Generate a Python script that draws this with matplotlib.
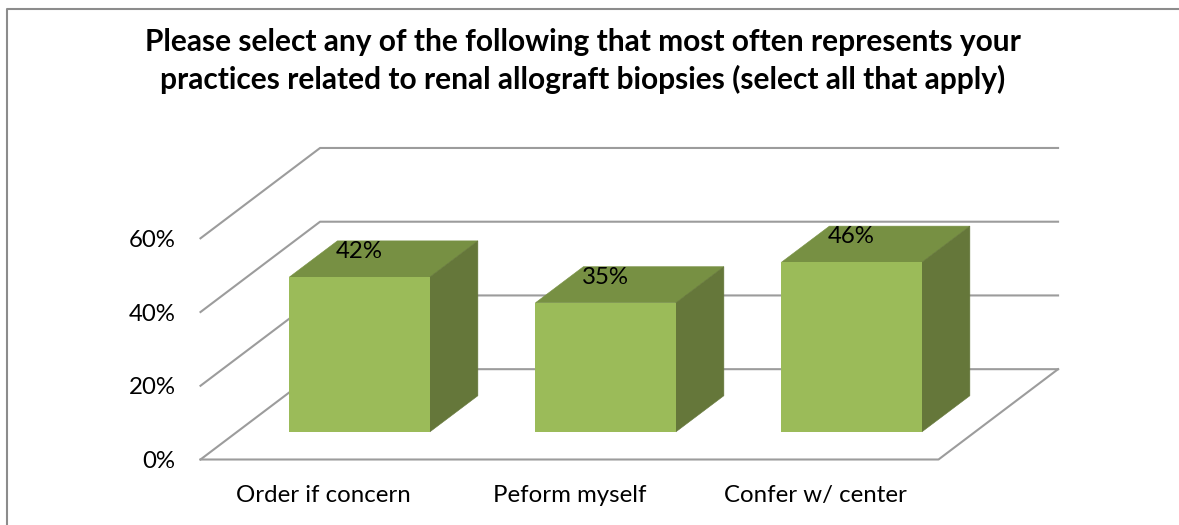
import matplotlib
matplotlib.use("Agg")
import matplotlib.pyplot as plt
from matplotlib.lines import Line2D
from matplotlib.patches import Polygon

plt.rcParams['font.family'] = ['Lato', 'DejaVu Sans']

# Chart values
categories = ['Order if concern', 'Peform myself', 'Confer w/ center']
values = [42, 35, 46]
gridvals = [0, 20, 40, 60]
title = ('Please select any of the following that most often represents your\n'
         'practices related to renal allograft biopsies (select all that apply)')

# 3D look: how far the back wall and the bars are shifted, in data units
wall_dx, wall_dy = 0.486, 24.5
base_dx, base_dy = 0.147, 7.5
bar_dx, bar_dy = 0.195, 9.8
bar_width = 0.571

grid_color = '#9c9c9c'
front_color = '#9bbb59'
top_color = '#779043'
side_color = '#65773a'

W, H = 1179, 525
fig = plt.figure(figsize=(W / 100, H / 100), dpi=100)
ax = fig.add_axes([200.5 / W, (H - 459.5) / H, 738 / W, 221.2 / H])
ax.set_xlim(0, 3)
ax.set_ylim(0, 60)
for s in ax.spines.values():
    s.set_visible(False)
ax.patch.set_visible(False)

# Gridlines on the side wall and back wall
for v in gridvals:
    ax.plot([0, wall_dx, 3 + wall_dx], [v, v + wall_dy, v + wall_dy],
            color=grid_color, lw=1.5, clip_on=False, zorder=1)

# Floor edges
ax.plot([0, 3, 3 + wall_dx], [0, 0, wall_dy], color=grid_color, lw=1.5,
        clip_on=False, zorder=1)

# Bars: front, top and side faces, thin same colour edge hides the seams
for i, val in enumerate(values):
    x0 = i + 0.5 - bar_width / 2 + base_dx
    x1 = x0 + bar_width
    y0 = base_dy
    y1 = base_dy + val
    top = [(x0, y1), (x1, y1), (x1 + bar_dx, y1 + bar_dy), (x0 + bar_dx, y1 + bar_dy)]
    side = [(x1, y0), (x1 + bar_dx, y0 + bar_dy), (x1 + bar_dx, y1 + bar_dy), (x1, y1)]
    front = [(x0, y0), (x1, y0), (x1, y1), (x0, y1)]
    ax.add_patch(Polygon(top, fc=top_color, ec=top_color, lw=0.4, clip_on=False, zorder=2))
    ax.add_patch(Polygon(side, fc=side_color, ec=side_color, lw=0.4, clip_on=False, zorder=2))
    ax.add_patch(Polygon(front, fc=front_color, ec='none', clip_on=False, zorder=3))
    ax.annotate(f'{val}%', ((x0 + x1) / 2, y1), xytext=(0, 18.5),
                textcoords='offset points', ha='center', va='center',
                fontsize=17.3, color='black', zorder=4)

ax.set_xticks([i + 0.5 for i in range(len(categories))])
ax.set_xticklabels(categories, fontsize=17.3)
ax.set_yticks(gridvals)
ax.set_yticklabels([f'{v}%' for v in gridvals], fontsize=17.3)
ax.tick_params(axis='x', length=0, pad=18.5)
ax.tick_params(axis='y', length=0, pad=18)

fig.text(583 / W, (H - 61) / H, title, ha='center', va='center', fontsize=21.5,
         fontweight='bold', color='black', linespacing=1.36)

# Chart frame, only left and top show in the crop
fig.add_artist(Line2D([7 / W, 7 / W, 1], [0, (H - 9) / H, (H - 9) / H],
                      color='#8c8c8c', lw=1.5, transform=fig.transFigure))

fig.savefig('out.png', dpi=100)
